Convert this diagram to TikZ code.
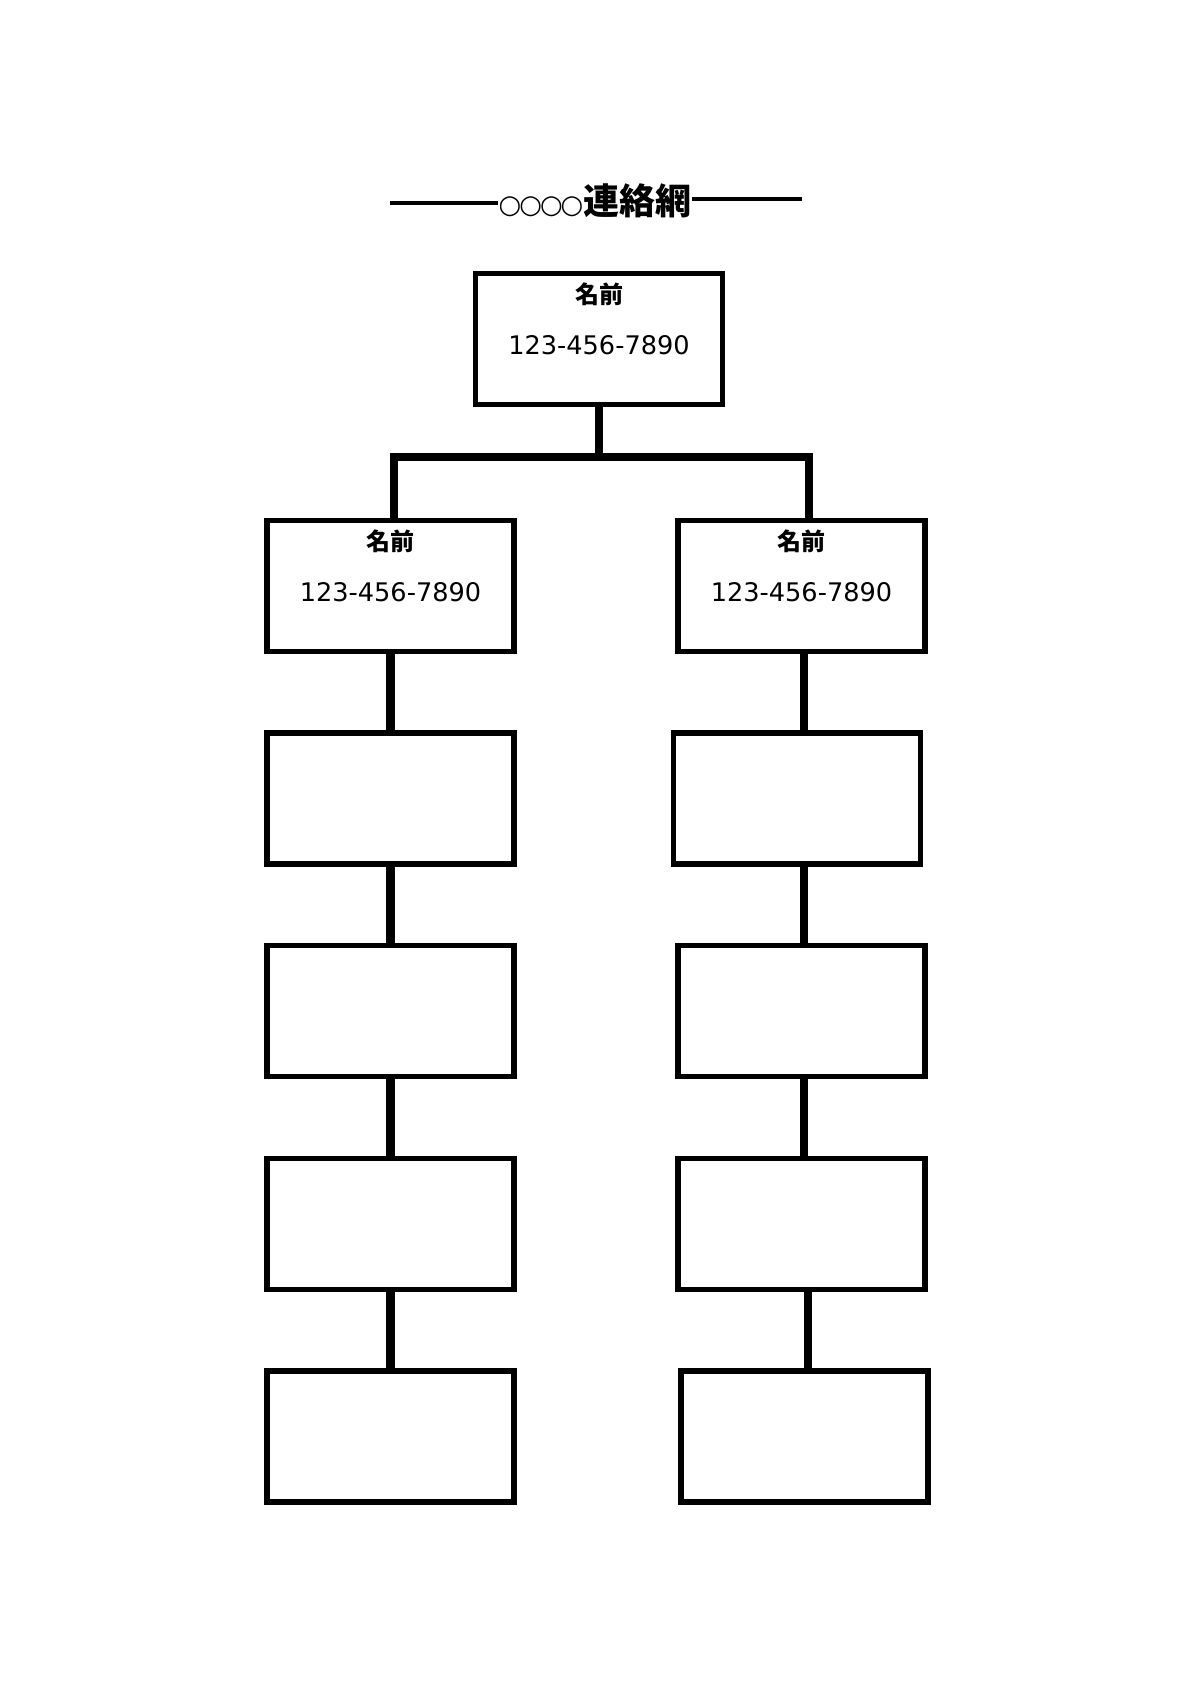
\documentclass[tikz,border=0pt]{standalone}
\usepackage{fontspec}
\setmainfont{DejaVu Sans}
\newfontfamily\jpfont{Noto Sans CJK JP}
\usetikzlibrary{positioning,calc}

\begin{document}
\begin{tikzpicture}[
    x=0.5pt, y=-0.5pt,
    cbox/.style={draw, line width=2.6pt,
                 minimum width=123.5pt, minimum height=65.5pt,
                 inner sep=0pt, outer sep=0pt},
    namelbl/.style={font=\jpfont\bfseries\fontsize{12}{14}\selectfont, inner sep=0pt},
    tellbl/.style={font=\fontsize{12.8}{15}\selectfont, inner sep=0pt},
    link/.style={line width=4.25pt},
    rule/.style={line width=2pt}
  ]
    \useasboundingbox (0,0) rectangle (1190,1684);
    % title
    \node[inner sep=0pt] (title) at (595,201)
      {\raisebox{0.5pt}{\fontsize{13}{15}\selectfont ○\kern-1pt○\kern-1pt○\kern-1pt○}{\jpfont\bfseries\fontsize{18}{20}\selectfont 連絡網}};
    \coordinate (tl) at (390,203);
    \coordinate (tr) at (802,199);
    \draw[rule] (tl) -- (tl -| title.west);
    \draw[rule] (title.east |- tr) -- (tr);
    % boxes
    \node[cbox] (top) at (599,339) {};
    \foreach \i/\y in {1/586, 2/798.5, 3/1011, 4/1224, 5/1436.5}
      \node[cbox] (l\i) at (390.5,\y) {};
    \foreach \i/\x/\y in {1/801.5/586, 2/797/798.5, 3/801.5/1011, 4/801.5/1224, 5/804.5/1436.5}
      \node[cbox] (r\i) at (\x,\y) {};
    % labels
    \foreach \b in {top, l1, r1} {
      \node[namelbl] (\b name) at ($(\b.north)+(0,21)$) {名前};
      \node[tellbl]  (\b tel)  at ($(\b.north)+(0,72)$) {123-456-7890};
    }
    % connectors
    \coordinate (jl) at (394,457);
    \coordinate (jr) at (809,457);
    \draw[link] (top.south) -- (top.south |- jl);
    \draw[link] (l1.north -| jl) -- (jl) -- (jr) -- (r1.north -| jr);
    \foreach \a/\b in {1/2, 2/3, 3/4, 4/5}
      \draw[link] (l\a.south) -- (l\b.north);
    \coordinate (rs) at (804,0);
    \coordinate (rt) at (808,0);
    \foreach \a/\b in {1/2, 2/3, 3/4}
      \draw[link] (rs |- r\a.south) -- (rs |- r\b.north);
    \draw[link] (rt |- r4.south) -- (rt |- r5.north);
\end{tikzpicture}
\end{document}
